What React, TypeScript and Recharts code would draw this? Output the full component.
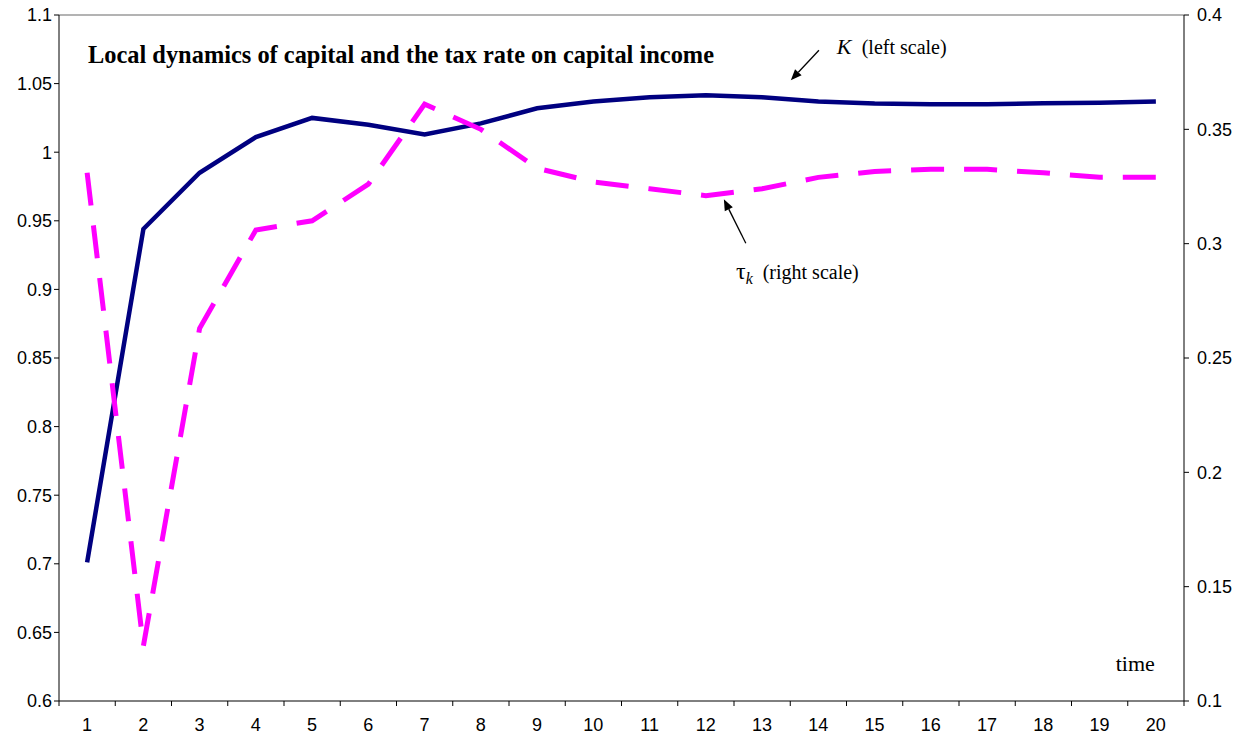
import React from 'react';
import {
  LineChart,
  Line,
  XAxis,
  YAxis,
  ReferenceLine,
} from 'recharts';

// time periods on the x axis
const TIME = [1, 2, 3, 4, 5, 6, 7, 8, 9, 10, 11, 12, 13, 14, 15, 16, 17, 18, 19, 20];

// capital K (left scale)
const K_VALUES = [
  0.701, 0.944, 0.985, 1.011, 1.025, 1.02, 1.013, 1.021, 1.032, 1.037,
  1.04, 1.0415, 1.04, 1.037, 1.0355, 1.035, 1.035, 1.0356, 1.036, 1.037,
];

// tax rate on capital income tau_k (right scale)
const TAU_VALUES = [
  0.331, 0.124, 0.263, 0.306, 0.31, 0.326, 0.361, 0.35, 0.333, 0.327,
  0.324, 0.321, 0.324, 0.329, 0.3316, 0.3325, 0.3325, 0.331, 0.329, 0.329,
];

const LEFT_TICKS = [0.6, 0.65, 0.7, 0.75, 0.8, 0.85, 0.9, 0.95, 1, 1.05, 1.1];
const RIGHT_TICKS = [0.1, 0.15, 0.2, 0.25, 0.3, 0.35, 0.4];

const data = TIME.map((t, i) => ({ t, k: K_VALUES[i], tau: TAU_VALUES[i] }));

const WIDTH = 1226;
const HEIGHT = 724;
const LEFT_W = 51;
const RIGHT_W = 50;
const PLOT_W = WIDTH - LEFT_W - RIGHT_W;
const HALF_BAND = PLOT_W / TIME.length / 2;

const SANS = '"Liberation Sans", Arial, sans-serif';
const SERIF = '"Liberation Serif", "Times New Roman", serif';

const fmt = (v: number) => String(+v.toFixed(2));

// x tick: label at the category centre, tick mark at the category boundary
const TimeTick = (props: any) => {
  const { x, y, payload, index } = props;
  return (
    <g>
      <line x1={x - HALF_BAND} y1={y} x2={x - HALF_BAND} y2={y + 5} stroke="#000" />
      {index === TIME.length - 1 && (
        <line x1={x + HALF_BAND} y1={y} x2={x + HALF_BAND} y2={y + 5} stroke="#000" />
      )}
      <text x={x} y={y + 30} textAnchor="middle" fontFamily={SANS} fontSize={18} fill="#000">
        {payload.value}
      </text>
    </g>
  );
};

// thin black arrow with a filled head at the end point
const Arrow = (props: any) => {
  const { x1, y1, x2, y2 } = props;
  const dx = x2 - x1;
  const dy = y2 - y1;
  const len = Math.sqrt(dx * dx + dy * dy) || 1;
  const ux = dx / len;
  const uy = dy / len;
  const hl = 11;
  const hw = 4.5;
  const bx = x2 - ux * hl;
  const by = y2 - uy * hl;
  const pts = `${x2},${y2} ${bx - uy * hw},${by + ux * hw} ${bx + uy * hw},${by - ux * hw}`;
  return (
    <g>
      <line x1={x1} y1={y1} x2={bx} y2={by} stroke="#000" strokeWidth={1.3} />
      <polygon points={pts} fill="#000" />
    </g>
  );
};

export default function App() {
  // the chart svg reaches 8px into the body margin above and below so edge labels are not clipped
  return (
    <div style={{ position: 'relative', width: WIDTH, height: HEIGHT }}>
      <div style={{ position: 'absolute', left: 0, top: -8 }}>
        <LineChart
          width={WIDTH}
          height={HEIGHT + 16}
          data={data}
          margin={{ top: 15, right: 0, bottom: 8, left: 0 }}
        >
          <XAxis
            dataKey="t"
            type="number"
            domain={[0.5, 20.5]}
            ticks={TIME}
            interval={0}
            height={31}
            tickSize={0}
            tickMargin={0}
            tickLine={false}
            axisLine={{ stroke: '#000' }}
            tick={<TimeTick />}
          />
          <YAxis
            yAxisId="left"
            domain={[0.6, 1.1]}
            ticks={LEFT_TICKS}
            interval={0}
            width={LEFT_W}
            tickSize={5}
            tickMargin={2}
            tickFormatter={fmt}
            axisLine={{ stroke: '#000' }}
            tickLine={{ stroke: '#000' }}
            tick={{ fill: '#000', fontSize: 18, fontFamily: SANS }}
          />
          <YAxis
            yAxisId="right"
            orientation="right"
            domain={[0.1, 0.4]}
            ticks={RIGHT_TICKS}
            interval={0}
            width={RIGHT_W}
            tickSize={5}
            tickMargin={8}
            tickFormatter={fmt}
            axisLine={{ stroke: '#000' }}
            tickLine={{ stroke: '#000' }}
            tick={{ fill: '#000', fontSize: 18, fontFamily: SANS }}
          />
          <ReferenceLine yAxisId="left" y={1.1} stroke="#9a9a9a" strokeWidth={1.5} />
          <Line
            yAxisId="left"
            type="linear"
            dataKey="k"
            stroke="#000080"
            strokeWidth={4.5}
            dot={false}
            isAnimationActive={false}
          />
          <Line
            yAxisId="right"
            type="linear"
            dataKey="tau"
            stroke="#FF00FF"
            strokeWidth={5}
            strokeDasharray="33 20"
            dot={false}
            isAnimationActive={false}
          />
          <ReferenceLine
            yAxisId="left"
            segment={[{ x: 14.01, y: 1.0743 }, { x: 13.51, y: 1.0524 }]}
            shape={<Arrow />}
          />
          <ReferenceLine
            yAxisId="right"
            segment={[{ x: 12.71, y: 0.3002 }, { x: 12.32, y: 0.3194 }]}
            shape={<Arrow />}
          />
        </LineChart>
      </div>
      <svg
        width={WIDTH}
        height={HEIGHT}
        style={{ position: 'absolute', left: 0, top: 0, pointerEvents: 'none' }}
      >
        <text x={80} y={55} fontFamily={SERIF} fontWeight="bold" fontSize={24.4} fill="#000">
          Local dynamics of capital and the tax rate on capital income
        </text>
        <text x={828.7} y={46.3} fontFamily={SERIF} fill="#000">
          <tspan fontStyle="italic" fontSize={22}>K</tspan>
          <tspan x={853.7} fontSize={20}>(left scale)</tspan>
        </text>
        <text x={728} y={271} fontFamily={SERIF} fill="#000">
          <tspan fontSize={24}>τ</tspan>
          <tspan fontStyle="italic" fontSize={16} dy={5}>k</tspan>
          <tspan x={754.7} dy={-5} fontSize={20}>(right scale)</tspan>
        </text>
        <text x={1107.7} y={662.7} fontFamily={SERIF} fontSize={22} fill="#000">
          time
        </text>
      </svg>
    </div>
  );
}
